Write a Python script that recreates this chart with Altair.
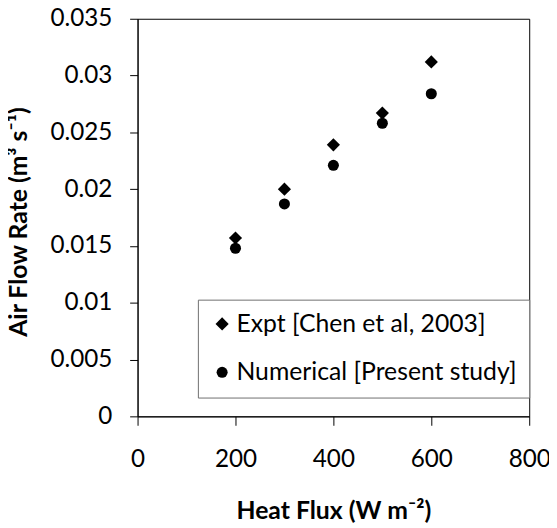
import altair as alt
import pandas as pd

heat_flux = [200, 300, 400, 500, 600]
expt_rate = [0.0157, 0.0200, 0.0239, 0.0267, 0.0312]
numerical_rate = [0.0148, 0.0187, 0.0221, 0.0258, 0.0284]
series_names = ["Expt [Chen et al, 2003]", "Numerical [Present study]"]
x_ticks = [0, 200, 400, 600, 800]
y_ticks = [0, 0.005, 0.01, 0.015, 0.02, 0.025, 0.03, 0.035]

rows = []
for name, vals in zip(series_names, [expt_rate, numerical_rate]):
    for f, v in zip(heat_flux, vals):
        rows.append({"flux": f, "rate": v, "series": name})
df = pd.DataFrame(rows)

FONT = "Lato"
legend = alt.Legend(
    title=None, orient="none", legendX=61, legendY=284,
    padding=12, rowPadding=23, labelFontSize=25, labelFont=FONT,
    labelColor="black", labelOffset=2, fillColor="white",
    strokeColor="#6f6f6f", labelLimit=400,
)

chart = alt.Chart(df).mark_point(filled=True, opacity=1, strokeWidth=0).encode(
    x=alt.X("flux:Q", scale=alt.Scale(domain=[0, 800], nice=False),
            axis=alt.Axis(values=x_ticks, title="Heat Flux (W m⁻²)", grid=False,
                          tickSize=9, labelPadding=42, labelBaseline="alphabetic",
                          labelFlush=False,
                          titleX=198, titleY=103, titleBaseline="alphabetic")),
    y=alt.Y("rate:Q", scale=alt.Scale(domain=[0, 0.035], nice=False),
            axis=alt.Axis(values=y_ticks, format="~g", title="Air Flow Rate (m³ s⁻¹)",
                          grid=False, tickSize=8, labelPadding=18, labelBaseline="middle",
                          labelFlush=False,
                          titleX=-112, titleY=205, titleAngle=270, titleAlign="center",
                          titleBaseline="alphabetic")),
    shape=alt.Shape("series:N", scale=alt.Scale(domain=series_names, range=["diamond", "circle"]), legend=legend),
    size=alt.Size("series:N", scale=alt.Scale(domain=series_names, range=[177, 125]), legend=legend),
    color=alt.Color("series:N", scale=alt.Scale(domain=series_names, range=["black", "black"]), legend=legend),
).properties(
    width=396, height=402,
    autosize=alt.AutoSizeParams(type="none"),
    padding={"left": 131, "top": 8, "right": 20, "bottom": 110},
).configure_view(
    stroke="black", strokeWidth=1,
).configure_axis(
    domainColor="black", tickColor="black", labelColor="black", titleColor="black",
    labelFont=FONT, titleFont=FONT, labelFontSize=24.5, titleFontSize=25,
    titleFontWeight="bold", domainWidth=1, tickWidth=1,
)

chart.save("out.html", embed_options={"renderer": "svg", "actions": False})
